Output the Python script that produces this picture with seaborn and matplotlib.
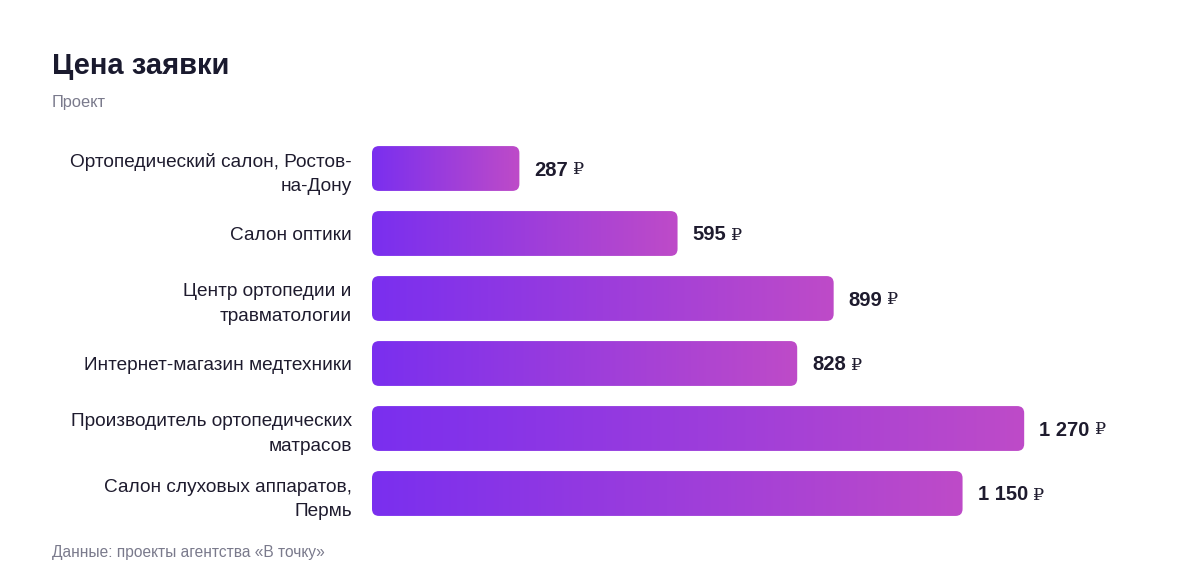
import numpy as np
import pandas as pd
import matplotlib
matplotlib.use("Agg")
import matplotlib.pyplot as plt
import seaborn as sns
from matplotlib.patches import FancyBboxPatch
from matplotlib.colors import LinearSegmentedColormap

# ---- data ----
categories = [
    "Ортопедический салон, Ростов-\nна-Дону",
    "Салон оптики",
    "Центр ортопедии и\nтравматологии",
    "Интернет-магазин медтехники",
    "Производитель ортопедических\nматрасов",
    "Салон слуховых аппаратов,\nПермь",
]
values = [287, 595, 899, 828, 1270, 1150]
title = "Цена заявки"
subtitle = "Проект"
footer = "Данные: проекты агентства «В точку»"
currency = "₽"


def fmt(v):
    return f"{v:,}".replace(",", " ")


sns.set_theme(style="white")
plt.rcParams["font.family"] = ["Liberation Sans", "DejaVu Sans"]

W, H = 1200, 584
fig = plt.figure(figsize=(W / 100, H / 100), dpi=100)
ax_left, ax_right, ax_top, ax_bottom = 372, 1150, 136, 526
ax = fig.add_axes([ax_left / W, 1 - ax_bottom / H, (ax_right - ax_left) / W, (ax_bottom - ax_top) / H])

df = pd.DataFrame({"project": categories, "price": values})
sns.barplot(data=df, x="price", y="project", orient="h", ax=ax, width=0.69,
            color="#7B2FF0", saturation=1)

XMAX = 1515
ax.set_xlim(0, XMAX)
ax.set_ylim(5.5, -0.5)

xscale = (ax_right - ax_left) / XMAX  # px per unit
yscale = (ax_bottom - ax_top) / 6.0
r_px = 7

cmap = LinearSegmentedColormap.from_list("g", ["#7A2FEF", "#BE4BC8"])
grad = np.linspace(0, 1, 256).reshape(1, -1)

fig.canvas.draw()
renderer = fig.canvas.get_renderer()

for p, v in zip(list(ax.patches), values):
    x0, y0, w, h = p.get_x(), p.get_y(), p.get_width(), p.get_height()
    p.set_visible(False)
    box = FancyBboxPatch((x0, y0), w, h,
                         boxstyle=f"round,pad=0,rounding_size={r_px / xscale}",
                         mutation_aspect=xscale / yscale,
                         facecolor="none", edgecolor="none", zorder=2)
    ax.add_patch(box)
    im = ax.imshow(grad, extent=[x0, x0 + w, y0 + h, y0], aspect="auto",
                   cmap=cmap, zorder=2, interpolation="bilinear")
    im.set_clip_path(box)
    ax.set_xlim(0, XMAX)
    ax.set_ylim(5.5, -0.5)
    yc = y0 + h / 2 + 1.5 / yscale
    t = ax.text(x0 + w + 15 / xscale, yc, fmt(v), va="center", ha="left",
                fontsize=14.5, fontweight="bold", color="#1E1B2E")
    bb = t.get_window_extent(renderer=renderer)
    xr = ax.transData.inverted().transform((bb.x1 + 5, 0))[0]
    ax.text(xr, yc, currency, va="center", ha="left",
            fontsize=12.5, fontweight="normal", color="#1E1B2E",
            family=["DejaVu Serif", "DejaVu Sans"])

ax.set_xlim(0, XMAX)
ax.set_ylim(5.5, -0.5)
ax.set_xlabel("")
ax.set_ylabel("")
ax.set_xticks([])
for s in ax.spines.values():
    s.set_visible(False)
ax.tick_params(axis="y", length=0, pad=14.5, labelsize=13.7, labelcolor="#1E1B2E")
for lab in ax.get_yticklabels():
    lab.set_linespacing(1.55)

fig.text(52 / W, 1 - 66 / H, title, fontsize=21, fontweight="bold",
         color="#1A1A2E", va="center", ha="left")
fig.text(52 / W, 1 - 102 / H, subtitle, fontsize=11.8, color="#7A7A8C",
         va="center", ha="left")
fig.text(52 / W, 1 - 552 / H, footer, fontsize=11.2, color="#7A7A8C",
         va="center", ha="left")

fig.savefig("out.png", dpi=100, facecolor="white")
